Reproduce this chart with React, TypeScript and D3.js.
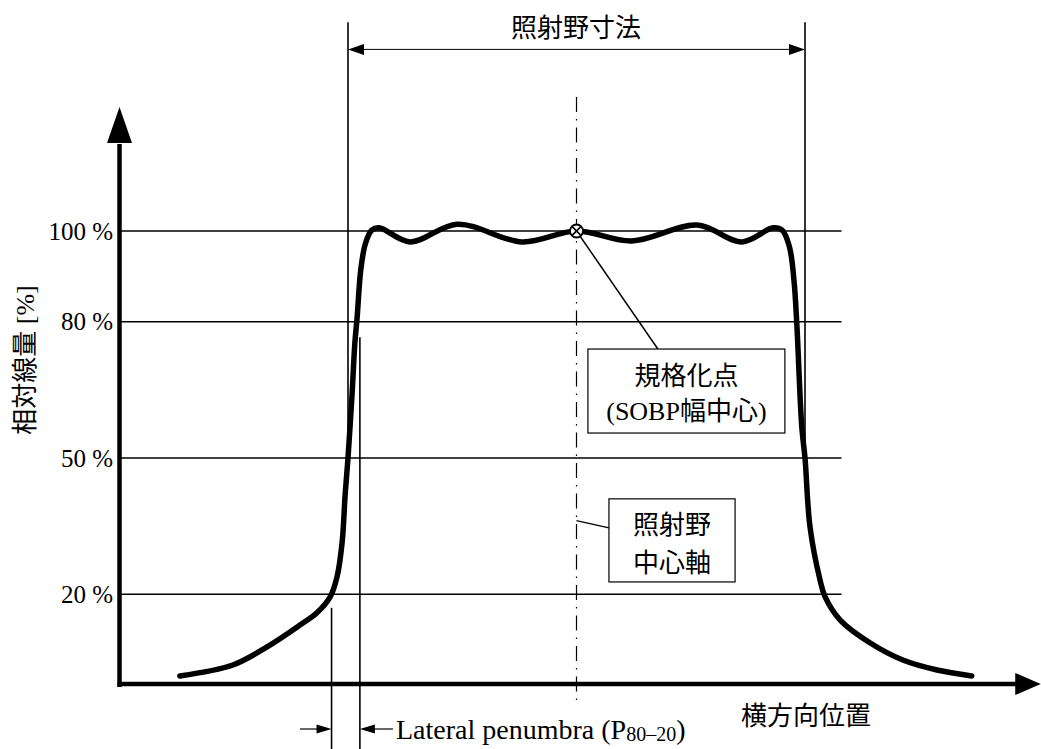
import React from "react";
import * as d3 from "d3";

// ---- data (lateral position in arbitrary units, field edges at ±50; dose in %) ----
const profileX = [-86.8, -75.2, -67.7, -60.5, -56.8, -53.9, -52.4, -51.3, -50.6, -50.0, -49.1, -48.5, -48.0, -47.2, -46.2, -44.8, -43.2, -36.4, -26.1, -11.9, 0, 12.1, 26.4, 36.2, 43.0, 45.0, 46.6, 47.6, 48.2, 49.3, 50.0, 51.1, 53.3, 54.4, 57.7, 64.2, 71.4, 78.9, 86.5];
const profileY = [2.0, 4.4, 8.4, 13.2, 15.9, 19.4, 23.8, 31.3, 42.3, 50.0, 64.3, 75.3, 81.0, 91.5, 97.2, 100.2, 100.7, 97.6, 101.5, 97.6, 100, 97.8, 101.3, 97.6, 100.7, 100.2, 96.5, 89.0, 79.7, 56.8, 50.0, 34.8, 23.1, 19.4, 14.3, 9.3, 5.5, 3.3, 2.0];
const gridLevels = [100, 80, 50, 20];
const gridLabels = ["100 %", "80 %", "50 %", "20 %"];
const fieldEdges = [-50, 50];
const penumbraEdges = [-53.6, -47.4];
const penumbraLevels = [17, 76.6];
const normPoint = [0, 100];

const W = 1041;
const H = 749;
const xs = d3.scaleLinear().domain([-50, 50]).range([348, 805]);
const ys = d3.scaleLinear().domain([0, 100]).range([685, 231]);

const SERIF = "'Liberation Serif', 'Noto Sans CJK JP', serif";
const CJK = "'Noto Sans CJK JP', sans-serif";

export default function App() {
  const pts: [number, number][] = profileX.map((x, i) => [x, profileY[i]]);
  const line = d3
    .line<[number, number]>()
    .x((d) => xs(d[0]))
    .y((d) => ys(d[1]))
    .curve(d3.curveCatmullRom.alpha(0.5));

  const axX0 = xs(-100);
  const axY0 = ys(0);
  const xTip = xs(101.6);
  const xBase = xs(96);
  const yTip = ys(127.3);
  const yBase = ys(119.4);

  const dimY = ys(140);
  const fieldTop = ys(146);
  const cx = xs(normPoint[0]);
  const cy = ys(normPoint[1]);

  const b1 = { x0: xs(2.5), x1: xs(45.6), y0: ys(74), y1: ys(55.5) };
  const b2 = { x0: xs(7.1), x1: xs(34.7), y0: ys(41), y1: ys(22.7) };

  const penY = 729;

  return (
    <svg width={W} height={H} style={{ position: "absolute", left: 0, top: 0, background: "#fff" }}>
      <rect x={0} y={0} width={W} height={H} fill="#fff" />
      {/* grid lines */}
      {gridLevels.map((g, i) => (
        <g key={g}>
          <line x1={axX0} x2={xs(57.7) + 1.3} y1={ys(g)} y2={ys(g)} stroke="#000" strokeWidth={1.6} />
          <text x={113} y={ys(g)} textAnchor="end" dominantBaseline="central" fontFamily={SERIF} fontSize={25}>
            {gridLabels[i]}
          </text>
        </g>
      ))}

      {/* field size lines */}
      {fieldEdges.map((e) => (
        <line key={e} x1={xs(e)} x2={xs(e)} y1={fieldTop} y2={ys(50)} stroke="#000" strokeWidth={1.6} />
      ))}
      {/* dimension arrow */}
      <line x1={xs(-50) + 10} x2={xs(50) - 10} y1={dimY} y2={dimY} stroke="#000" strokeWidth={1} />
      <polygon points={`${xs(-50)},${dimY} ${xs(-50) + 16},${dimY - 5.5} ${xs(-50) + 16},${dimY + 5.5}`} fill="#000" />
      <polygon points={`${xs(50)},${dimY} ${xs(50) - 16},${dimY - 5.5} ${xs(50) - 16},${dimY + 5.5}`} fill="#000" />
      <text x={576} y={25} textAnchor="middle" dominantBaseline="central" fontFamily={CJK} fontSize={26}>
        照射野寸法
      </text>

      {/* center axis dash-dot */}
      <line x1={cx} x2={cx} y1={ys(129.5)} y2={ys(-3.3)} stroke="#000" strokeWidth={1.2} strokeDasharray="15 7 1.5 7" />

      {/* penumbra lines */}
      {penumbraEdges.map((e, i) => (
        <line key={e} x1={xs(e)} x2={xs(e)} y1={ys(penumbraLevels[i])} y2={H} stroke="#000" strokeWidth={1.6} />
      ))}
      <line x1={300} x2={xs(penumbraEdges[0]) - 10} y1={penY} y2={penY} stroke="#000" strokeWidth={1.2} />
      <polygon points={`${xs(penumbraEdges[0])},${penY} ${xs(penumbraEdges[0]) - 15},${penY - 4.5} ${xs(penumbraEdges[0]) - 15},${penY + 4.5}`} fill="#000" />
      <line x1={xs(penumbraEdges[1]) + 10} x2={393} y1={penY} y2={penY} stroke="#000" strokeWidth={1.2} />
      <polygon points={`${xs(penumbraEdges[1])},${penY} ${xs(penumbraEdges[1]) + 15},${penY - 4.5} ${xs(penumbraEdges[1]) + 15},${penY + 4.5}`} fill="#000" />
      <text x={396} y={penY} dominantBaseline="central" fontFamily={SERIF} fontSize={28}>
        Lateral penumbra (P
        <tspan fontSize={20} dy={5}>80–20</tspan>
        <tspan dy={-5}>)</tspan>
      </text>

      {/* profile curve */}
      <path d={line(pts) || ""} fill="none" stroke="#000" strokeWidth={5.5} strokeLinecap="round" strokeLinejoin="round" />

      {/* axes */}
      <line x1={axX0} x2={axX0} y1={axY0 + 2} y2={yBase + 1} stroke="#000" strokeWidth={4.5} />
      <polygon points={`${axX0},${yTip} ${axX0 - 12.5},${yBase} ${axX0 + 12.5},${yBase}`} fill="#000" />
      <line x1={axX0 - 2} x2={xBase + 1} y1={axY0 - 1} y2={axY0 - 1} stroke="#000" strokeWidth={4.5} />
      <polygon points={`${xTip},${axY0 - 1} ${xBase},${axY0 - 12} ${xBase},${axY0 + 10}`} fill="#000" />

      {/* normalization point marker */}
      <line x1={cx} y1={cy} x2={xs(17.8)} y2={b1.y0} stroke="#000" strokeWidth={1.5} />
      <circle cx={cx} cy={cy} r={6.5} fill="#fff" stroke="#000" strokeWidth={1.8} />
      <line x1={cx - 4.6} y1={cy - 4.6} x2={cx + 4.6} y2={cy + 4.6} stroke="#000" strokeWidth={1.6} />
      <line x1={cx - 4.6} y1={cy + 4.6} x2={cx + 4.6} y2={cy - 4.6} stroke="#000" strokeWidth={1.6} />

      {/* box 1 */}
      <rect x={b1.x0} y={b1.y0} width={b1.x1 - b1.x0} height={b1.y1 - b1.y0} fill="#fff" stroke="#000" strokeWidth={1.2} />
      <text x={(b1.x0 + b1.x1) / 2} y={373} textAnchor="middle" dominantBaseline="central" fontFamily={CJK} fontSize={26}>
        規格化点
      </text>
      <text x={(b1.x0 + b1.x1) / 2} y={411} textAnchor="middle" dominantBaseline="central" fontFamily={SERIF} fontSize={26}>
        (SOBP幅中心)
      </text>

      {/* box 2 */}
      <line x1={b2.x0} y1={ys(34.6)} x2={cx} y2={ys(36.2)} stroke="#000" strokeWidth={1.4} />
      <rect x={b2.x0} y={b2.y0} width={b2.x1 - b2.x0} height={b2.y1 - b2.y0} fill="#fff" stroke="#000" strokeWidth={1.2} />
      <text x={(b2.x0 + b2.x1) / 2} y={522} textAnchor="middle" dominantBaseline="central" fontFamily={CJK} fontSize={26}>
        照射野
      </text>
      <text x={(b2.x0 + b2.x1) / 2} y={560} textAnchor="middle" dominantBaseline="central" fontFamily={CJK} fontSize={26}>
        中心軸
      </text>

      {/* axis labels */}
      <text x={806} y={713} textAnchor="middle" dominantBaseline="central" fontFamily={CJK} fontSize={26}>
        横方向位置
      </text>
      <text
        transform={`translate(25,360) rotate(-90)`}
        textAnchor="middle"
        dominantBaseline="central"
        fontFamily={SERIF}
        fontSize={26}
      >
        相対線量 [%]
      </text>
    </svg>
  );
}
